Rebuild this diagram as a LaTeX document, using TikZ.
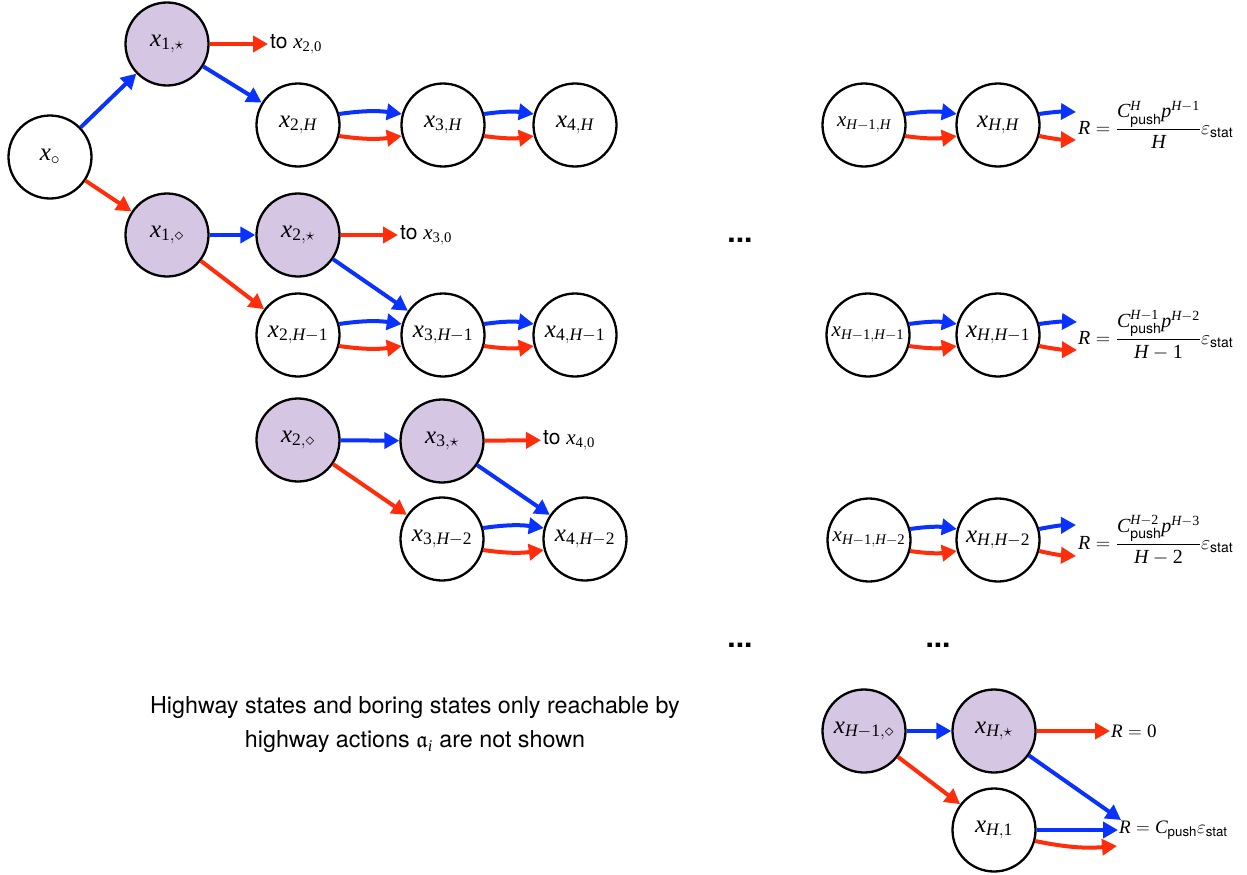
\RequirePackage{fix-cm}
\documentclass[tikz,border=0pt]{standalone}
\usepackage{amsmath,amssymb}
\usepackage[no-math]{fontspec}
\newfontfamily\hv{TeX Gyre Heros}
\newfontfamily\tms{Liberation Serif}[NFSSFamily=libser]
\DeclareSymbolFont{tletters}{TU}{libser}{m}{it}
\DeclareSymbolFont{toperators}{TU}{libser}{m}{n}
\DeclareMathSymbol{x}{\mathalpha}{tletters}{"78}
\DeclareMathSymbol{H}{\mathalpha}{tletters}{"48}
\DeclareMathSymbol{C}{\mathalpha}{tletters}{"43}
\DeclareMathSymbol{p}{\mathalpha}{tletters}{"70}
\DeclareMathSymbol{R}{\mathalpha}{tletters}{"52}
\DeclareMathSymbol{i}{\mathalpha}{tletters}{"69}
\DeclareMathSymbol{0}{\mathalpha}{toperators}{"30}
\DeclareMathSymbol{1}{\mathalpha}{toperators}{"31}
\DeclareMathSymbol{2}{\mathalpha}{toperators}{"32}
\DeclareMathSymbol{3}{\mathalpha}{toperators}{"33}
\DeclareMathSymbol{4}{\mathalpha}{toperators}{"34}
\usetikzlibrary{arrows.meta}
\definecolor{myblue}{RGB}{10,50,255}
\definecolor{myred}{RGB}{255,45,10}
\definecolor{purp}{RGB}{213,199,228}
\newcommand\sfs[1]{\text{\hv #1}}
\begin{document}
\begin{tikzpicture}[x=1pt,y=-1pt,
  st/.style={circle,draw,line width=2.3pt,minimum size=83pt,inner sep=0pt,font=\fontsize{25}{28}\selectfont},
  hwst/.style={st,fill=purp},
  sm/.style={font=\fontsize{21}{24}\selectfont},
  ba/.style={draw=myblue,line width=4pt,-{Triangle[length=15pt,width=16pt]}},
  ra/.style={draw=myred,line width=4pt,-{Triangle[length=15pt,width=16pt]}},
  lbl/.style={anchor=west,inner sep=2pt,font=\hv\fontsize{21}{24}\selectfont},
  fml/.style={anchor=west,inner sep=1pt,font=\fontsize{20}{24}\selectfont},
  fmls/.style={anchor=west,inner sep=1pt,font=\fontsize{19}{22}\selectfont},
  dotsn/.style={font=\hv\bfseries\fontsize{30}{32}\selectfont,inner sep=0pt},
  capt/.style={align=center,font=\hv\fontsize{23.3}{34}\selectfont}]
\useasboundingbox (0,0) rectangle (1247,875);

% left part
\node[st] (xo) at (50,157) {$x_\circ$};
\node[hwst] (a1s) at (167,44) {$x_{1,\star}$};
\node[hwst] (a1d) at (167,235) {$x_{1,\diamond}$};
\node[st] (b2H) at (298,125) {$x_{2,H}$};
\node[hwst] (b2s) at (298,235) {$x_{2,\star}$};
\node[st] (b2Hm) at (298,335) {$x_{2,H-1}$};
\node[hwst] (b2d) at (298,440) {$x_{2,\diamond}$};
\node[st] (c3H) at (443,125) {$x_{3,H}$};
\node[st] (c3Hm) at (443,335) {$x_{3,H-1}$};
\node[hwst] (c3s) at (442,441) {$x_{3,\star}$};
\node[st] (c3Hmm) at (442,539) {$x_{3,H-2}$};
\node[st] (d4H) at (575,125) {$x_{4,H}$};
\node[st] (d4Hm) at (575,335) {$x_{4,H-1}$};
\node[st] (d4Hmm) at (585,539) {$x_{4,H-2}$};

\node[lbl] (t20) at (268,44) {to $x_{2,0}$};
\node[lbl] (t30) at (398,235) {to $x_{3,0}$};
\node[lbl] (t40) at (541,440) {to $x_{4,0}$};

\draw[ba] (xo) -- (a1s);
\draw[ra] (xo) -- (a1d);
\draw[ra] (a1s) -- (t20);
\draw[ba] (a1s) -- (b2H);
\draw[ba] (b2H.15) to[bend left=8] (c3H.165);
\draw[ra] (b2H.-15) to[bend right=8] (c3H.-165);
\draw[ba] (c3H.15) to[bend left=8] (d4H.165);
\draw[ra] (c3H.-15) to[bend right=8] (d4H.-165);

\draw[ba] (a1d) -- (b2s);
\draw[ra] (a1d) -- (b2Hm);
\draw[ra] (b2s) -- (t30);
\draw[ba] (b2s) -- (c3Hm);
\draw[ba] (b2Hm.15) to[bend left=8] (c3Hm.165);
\draw[ra] (b2Hm.-15) to[bend right=8] (c3Hm.-165);
\draw[ba] (c3Hm.15) to[bend left=8] (d4Hm.165);
\draw[ra] (c3Hm.-15) to[bend right=8] (d4Hm.-165);

\draw[ba] (b2d) -- (c3s);
\draw[ra] (b2d) -- (c3Hmm);
\draw[ra] (c3s) -- (t40);
\draw[ba] (c3s) -- (d4Hmm);
\draw[ba] (c3Hmm.15) to[bend left=8] (d4Hmm.165);
\draw[ra] (c3Hmm.-15) to[bend right=8] (d4Hmm.-165);

% dots
\node[dotsn] (dA) at (740,240) {...};
\node[dotsn] (dB) at (740,645) {...};
\node[dotsn] (dC) at (938,645) {...};

% right part
\node[st,sm] (pHH) at (864,125) {$x_{H-1,H}$};
\node[st] (qHH) at (998,125) {$x_{H,H}$};
\node[st,sm] (pHm) at (868,335) {$x_{H-1,H-1}$};
\node[st] (qHm) at (998,335) {$x_{H,H-1}$};
\node[st,sm] (pHmm) at (869,540) {$x_{H-1,H-2}$};
\node[st] (qHmm) at (998,540) {$x_{H,H-2}$};
\node[hwst] (pd) at (864,731) {$x_{H-1,\diamond}$};
\node[hwst] (qs) at (994,731) {$x_{H,\star}$};
\node[st] (q1) at (994,830) {$x_{H,1}$};

\draw[ba] (pHH.15) to[bend left=8] (qHH.165);
\draw[ra] (pHH.-15) to[bend right=8] (qHH.-165);
\draw[ba] (pHm.15) to[bend left=8] (qHm.165);
\draw[ra] (pHm.-15) to[bend right=8] (qHm.-165);
\draw[ba] (pHmm.15) to[bend left=8] (qHmm.165);
\draw[ra] (pHmm.-15) to[bend right=8] (qHmm.-165);

\node[fml] (R1) at (1077,125) {$R=\dfrac{C^{H}_{\sfs{push}}p^{H-1}}{H}\varepsilon_{\sfs{stat}}$};
\node[fml] (R2) at (1077,335) {$R=\dfrac{C^{H-1}_{\sfs{push}}p^{H-2}}{H-1}\varepsilon_{\sfs{stat}}$};
\node[fml] (R3) at (1077,540) {$R=\dfrac{C^{H-2}_{\sfs{push}}p^{H-3}}{H-2}\varepsilon_{\sfs{stat}}$};

\coordinate (eb1) at (1076,112);
\coordinate (er1) at (1076,140);
\coordinate (eb2) at (1077,322);
\coordinate (er2) at (1077,350);
\coordinate (eb3) at (1076,525);
\coordinate (er3) at (1076,556);
\draw[ba] (qHH.15) to[bend left=5] (eb1);
\draw[ra] (qHH.-15) to[bend right=5] (er1);
\draw[ba] (qHm.15) to[bend left=5] (eb2);
\draw[ra] (qHm.-15) to[bend right=5] (er2);
\draw[ba] (qHmm.15) to[bend left=5] (eb3);
\draw[ra] (qHmm.-15) to[bend right=5] (er3);

\node[fmls] (r0) at (1110,731) {$R=0$};
\node[fmls] (rc) at (1118,830) {$R=C_{\sfs{push}}\varepsilon_{\sfs{stat}}$};
\coordinate (ec1) at (1121,820);
\coordinate (ec3) at (1117,846);

\draw[ba] (pd) -- (qs);
\draw[ra] (pd) -- (q1);
\draw[ra] (qs) -- (r0);
\draw[ba] (qs) -- (ec1);
\draw[ba] (q1) -- (rc);
\draw[ra] (q1.-15) to[bend right=8] (ec3);

% caption
\node[capt] (cap) at (415,725) {Highway states and boring states only reachable by\\highway actions $\mathfrak{a}_i$ are not shown};
\end{tikzpicture}
\end{document}
